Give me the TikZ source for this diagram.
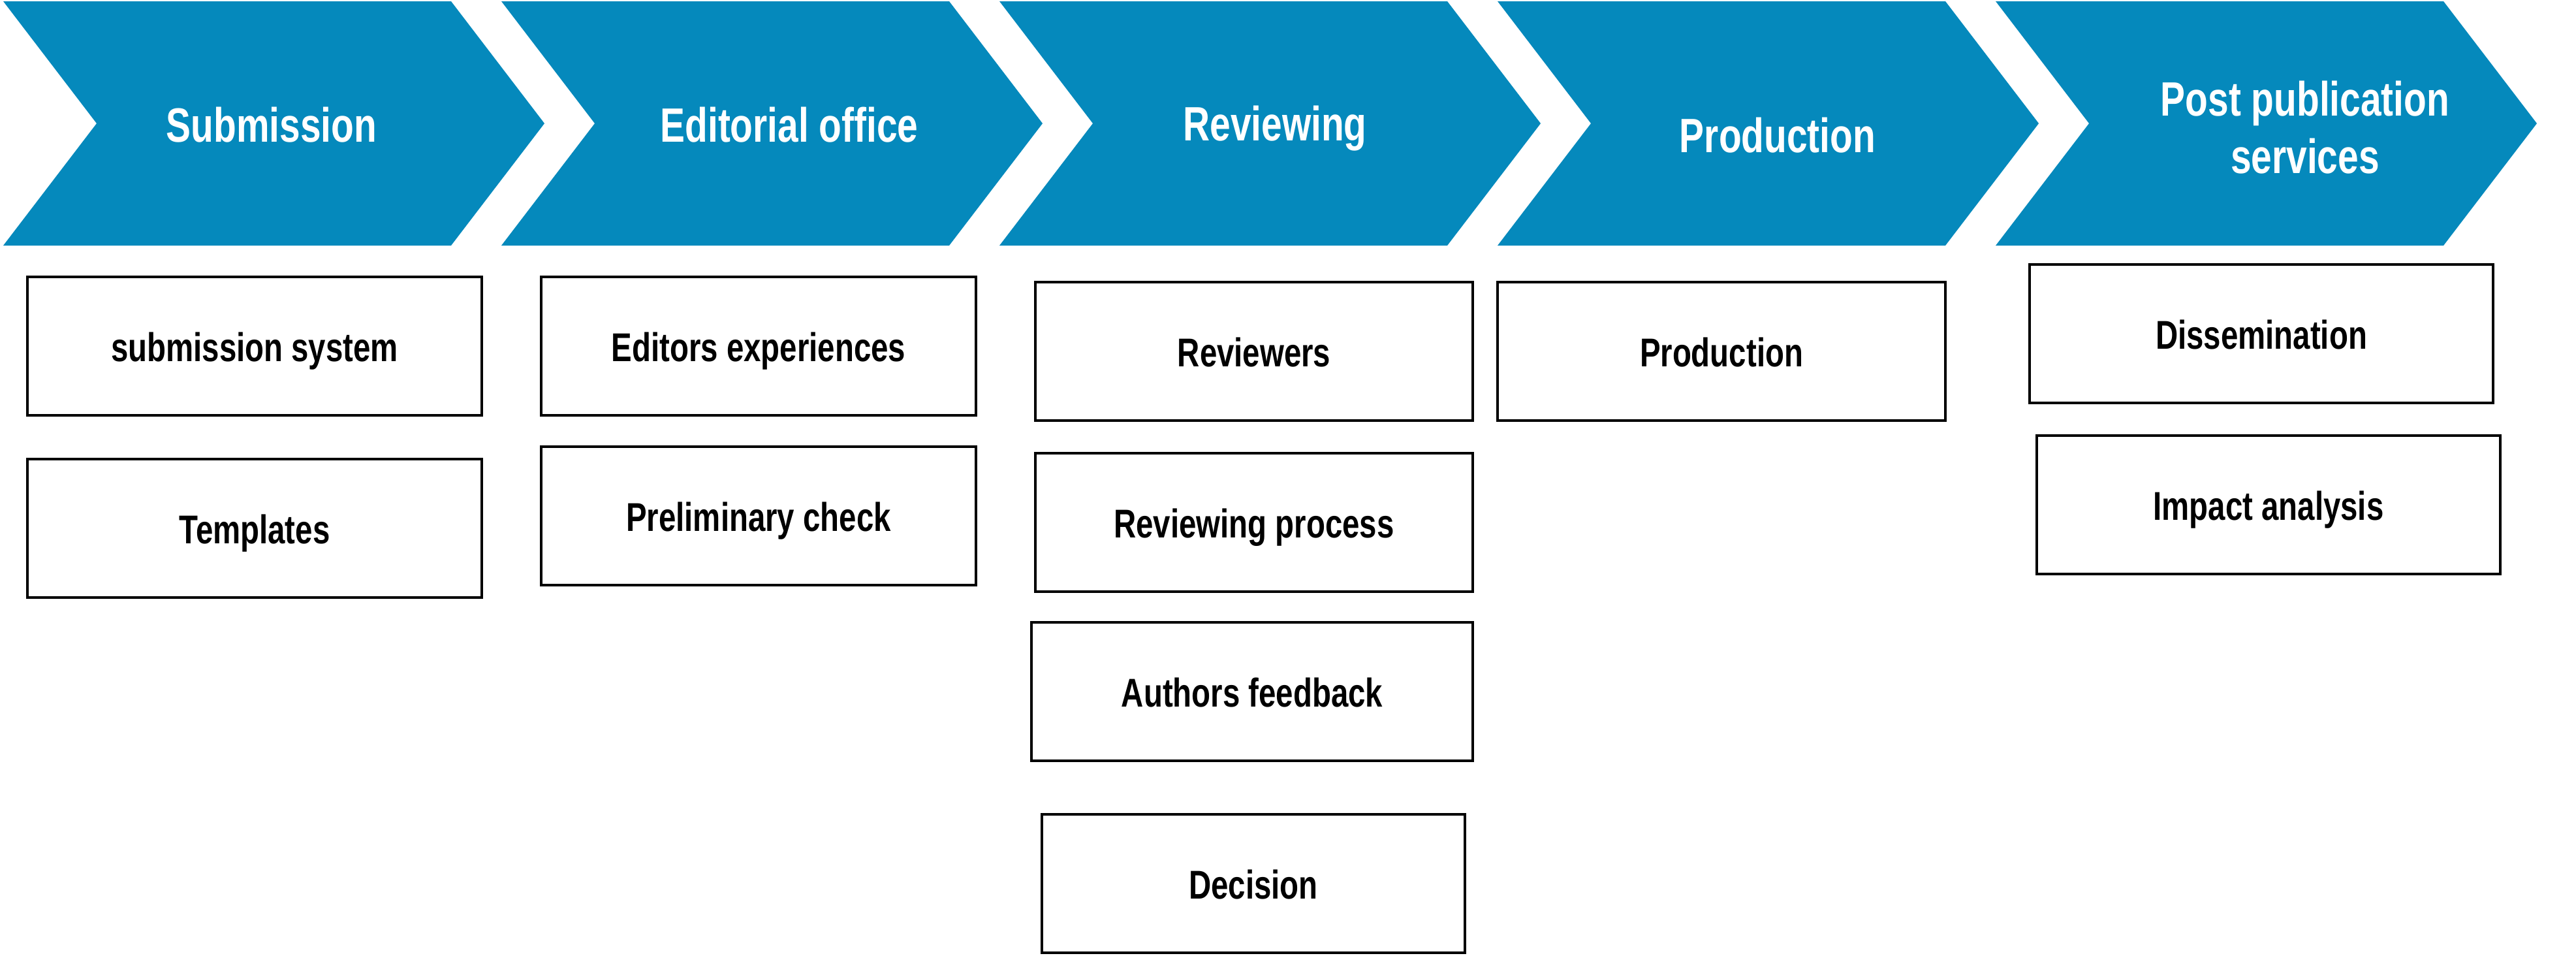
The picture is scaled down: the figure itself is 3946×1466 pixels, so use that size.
\documentclass[tikz,border=0pt]{standalone}
\usepackage{fontspec}
\setmainfont{Liberation Sans}[FakeStretch=0.77]
\definecolor{stageblue}{RGB}{5,137,188}
\begin{document}
\begin{tikzpicture}[x=0.01cm, y=-0.01cm,
    stage/.style = {fill=stageblue},
    head/.style = {anchor=base, text=white, font=\fontsize{21}{25}\selectfont\bfseries, align=center},
    task/.style = {draw, line width=1.2pt, minimum height=2.12cm, text height=0.6cm, text depth=0.14cm,
      font=\fontsize{17.5}{21}\selectfont\bfseries}]
      \useasboundingbox (0,0) rectangle (3946,1466);

      % chevrons
      \foreach \x in {5,768,1531,2294,3057}
        \fill[stage] (\x,2) -- ++(686,0) -- ++(143,187) -- ++(-143,187)
          -- ++(-686,0) -- ++(143,-187) -- cycle;

      \node[head] (submission) at (416,217) {Submission};
      \node[head] (editorial) at (1209,217) {Editorial office};
      \node[head] (reviewing) at (1953,215) {Reviewing};
      \node[head] (production) at (2723,233) {Production};
      \node[head] (post) at (3531,265) {Post publication\\services};

      % tasks
      \node[task, minimum width=6.95cm] (system) at (390,530) {submission system};
      \node[task, minimum width=6.95cm] (templates) at (390,809) {Templates};
      \node[task, minimum width=6.65cm] (editors) at (1162,530) {Editors experiences};
      \node[task, minimum width=6.65cm] (check) at (1162,790) {Preliminary check};
      \node[task, minimum width=6.70cm] (reviewers) at (1921,538) {Reviewers};
      \node[task, minimum width=6.70cm] (process) at (1921,800) {Reviewing process};
      \node[task, minimum width=6.75cm] (feedback) at (1918,1059) {Authors feedback};
      \node[task, minimum width=6.48cm] (decision) at (1920,1353) {Decision};
      \node[task, minimum width=6.85cm] (prod) at (2637,538) {Production};
      \node[task, minimum width=7.09cm] (dissemination) at (3464,511) {Dissemination};
      \node[task, minimum width=7.09cm] (impact) at (3475,773) {Impact analysis};

    \end{tikzpicture}
\end{document}
